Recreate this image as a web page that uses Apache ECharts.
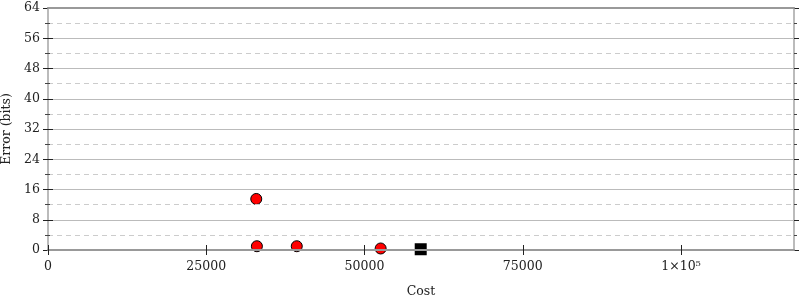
<!DOCTYPE html>
<html><head><meta charset="utf-8">
<script src="https://cdn.jsdelivr.net/npm/echarts@6/dist/echarts.min.js"></script>
<style>html,body{margin:0;padding:0;background:#fff}#c{width:800px;height:300px}</style>
</head><body><div id="c"></div>
<script>
var xTicks = [0, 25000, 50000, 75000, 100000];
var xTickLabels = ['0', '25000', '50000', '75000', '1×10⁵'];
var yTicks = [0, 8, 16, 24, 32, 40, 48, 56, 64];
var circleCost = [32900, 33000, 39300, 52550];
var circleError = [13.5, 1.0, 1.0, 0.4];
var squareCost = [58880];
var squareError = [0.2];
var xMax = 117850;

var font = 'DejaVu Serif';
var fs = 12.5;
function pairs(a, b) { return a.map(function (v, i) { return [v, b[i]]; }); }
function xLab(v) { var i = xTicks.indexOf(v); return i >= 0 ? xTickLabels[i] : ''; }

var yBase = { type: 'value', min: 0, max: 64, interval: 8, splitNumber: 8 };
function yAx(extra) { return Object.assign({}, yBase, extra); }

var chart = echarts.init(document.getElementById('c'), null, { renderer: 'canvas' });
chart.setOption({
  animation: false,
  grid: { left: 48, right: 6, top: 8, bottom: 50, containLabel: false, outerBoundsMode: 'none' },
  xAxis: [
    { type: 'value', min: 0, max: xMax, position: 'bottom', z: 5,
      name: 'Cost', nameLocation: 'middle', nameGap: 35,
      nameTextStyle: { fontFamily: font, fontSize: fs, color: '#222' },
      axisLine: { show: true, onZero: false, lineStyle: { color: '#999', width: 2 } },
      axisTick: { show: true, length: 5, customValues: xTicks, lineStyle: { color: '#222', width: 1 } },
      axisLabel: { show: true, customValues: xTicks, formatter: xLab, margin: 10, fontFamily: font, fontSize: fs, color: '#222' },
      splitLine: { show: false } },
    { type: 'value', min: 0, max: xMax, position: 'bottom', z: 5, offset: 0,
      axisLine: { show: false },
      axisTick: { show: true, inside: true, length: 5, customValues: xTicks, lineStyle: { color: '#222', width: 1 } },
      axisLabel: { show: false }, splitLine: { show: false } },
    { type: 'value', min: 0, max: xMax, position: 'top', z: 5,
      axisLine: { show: true, onZero: false, lineStyle: { color: '#999', width: 2 } },
      axisTick: { show: false }, axisLabel: { show: false }, splitLine: { show: false } }
  ],
  yAxis: [
    yAx({ position: 'left', z: 4,
      name: 'Error (bits)', nameLocation: 'middle', nameGap: 28,
      nameTextStyle: { fontFamily: font, fontSize: fs, color: '#222' },
      axisLine: { show: true, onZero: false, lineStyle: { color: '#bbb', width: 2 } },
      axisTick: { show: true, length: 5, lineStyle: { color: '#222', width: 1 } },
      minorTick: { show: true, splitNumber: 2, length: 2, lineStyle: { color: '#444', width: 1 } },
      axisLabel: { margin: 8, fontFamily: font, fontSize: fs, color: '#222', padding: [3, 0, 0, 0] },
      splitLine: { show: true, lineStyle: { color: '#bbb', width: 1 } },
      minorSplitLine: { show: true, lineStyle: { color: '#ccc', width: 1, type: [5, 4] } } }),
    yAx({ position: 'left', z: 4, offset: 0,
      axisLine: { show: false },
      axisTick: { show: true, inside: true, length: 5, lineStyle: { color: '#222', width: 1 } },
      minorTick: { show: true, splitNumber: 2, length: 2, lineStyle: { color: '#444', width: 1 } },
      axisLabel: { show: false }, splitLine: { show: false } }),
    yAx({ position: 'right', z: 4,
      axisLine: { show: true, onZero: false, lineStyle: { color: '#bbb', width: 2 } },
      axisTick: { show: true, length: 5, lineStyle: { color: '#222', width: 1 } },
      minorTick: { show: true, splitNumber: 2, length: 3, lineStyle: { color: '#444', width: 1 } },
      axisLabel: { show: false }, splitLine: { show: false } }),
    yAx({ position: 'right', z: 4, offset: 0,
      axisLine: { show: false },
      axisTick: { show: true, inside: true, length: 5, lineStyle: { color: '#222', width: 1 } },
      minorTick: { show: true, splitNumber: 2, length: 3, lineStyle: { color: '#444', width: 1 } },
      axisLabel: { show: false }, splitLine: { show: false } })
  ],
  series: [
    { type: 'scatter', xAxisIndex: 0, yAxisIndex: 0, z: 2, symbol: 'circle', symbolSize: 11,
      itemStyle: { color: '#ff0000', borderColor: '#000', borderWidth: 1, opacity: 1 },
      data: pairs(circleCost, circleError) },
    { type: 'scatter', xAxisIndex: 0, yAxisIndex: 0, z: 2, symbol: 'rect', symbolSize: 12,
      itemStyle: { color: '#000', opacity: 1 },
      data: pairs(squareCost, squareError) }
  ]
});
</script></body></html>
